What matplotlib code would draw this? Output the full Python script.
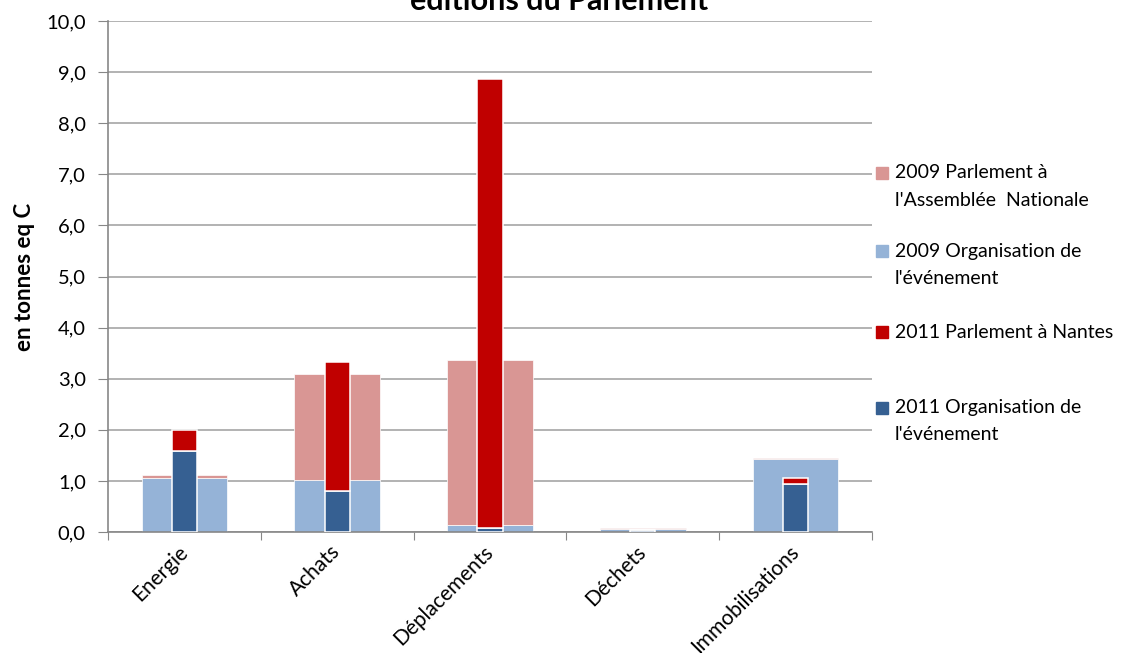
import matplotlib
matplotlib.use("Agg")
import matplotlib.pyplot as plt
import numpy as np

plt.rcParams['font.family'] = ['Lato', 'DejaVu Sans']

categories = ["Energie", "Achats", "Déplacements", "Déchets", "Immobilisations"]
org_2009 = [1.05, 1.02, 0.13, 0.05, 1.43]
parl_2009 = [0.07, 2.08, 3.24, 0.02, 0.02]
org_2011 = [1.58, 0.80, 0.07, 0.045, 0.94]
parl_2011 = [0.42, 2.53, 8.79, 0.0, 0.12]

legend_labels = ["2009 Parlement à\nl'Assemblée  Nationale",
                 "2009 Organisation de\nl'événement",
                 "2011 Parlement à Nantes",
                 "2011 Organisation de\nl'événement"]

c_parl09 = "#D99694"
c_org09 = "#95B3D7"
c_parl11 = "#C00000"
c_org11 = "#366092"

fig = plt.figure(figsize=(11.26, 6.53), dpi=100)
ax = fig.add_axes([108 / 1126, 1 - 532 / 653, (872 - 108) / 1126, (532 - 21) / 653])

x = np.arange(len(categories))
wide = 0.56
narrow = 0.165

ax.bar(x, org_2009, wide, color=c_org09, edgecolor="white", linewidth=0.5, zorder=2)
ax.bar(x, parl_2009, wide, bottom=org_2009, color=c_parl09, edgecolor="white", linewidth=0.5, zorder=2)
ax.bar(x, org_2011, narrow, color=c_org11, edgecolor="white", linewidth=1.1, zorder=3)
ax.bar(x, parl_2011, narrow, bottom=org_2011, color=c_parl11, edgecolor="white", linewidth=1.1, zorder=3)

ax.set_xlim(-0.5, len(categories) - 0.5)
ax.set_ylim(0, 10)
ax.set_yticks(np.arange(0, 11, 1))
ax.set_yticklabels([f"{v:.1f}".replace(".", ",") for v in range(0, 11)], fontsize=14.5)
ax.yaxis.grid(True, color="#A6A6A6", linewidth=1.2, zorder=0)
ax.set_axisbelow(True)

ax.set_xticks(np.arange(-0.5, len(categories), 1))
ax.set_xticklabels([])
ax.set_xticks(x, minor=True)
ax.set_xticklabels(categories, minor=True, rotation=45, ha="right", va="center",
                   rotation_mode="anchor", fontsize=15)
ax.tick_params(axis="x", which="minor", length=0, pad=12)
ax.tick_params(axis="x", which="major", length=6, color="#878787", direction="out")
ax.tick_params(axis="y", length=7, color="#878787", pad=9)

for s in ["top", "right"]:
    ax.spines[s].set_visible(False)
for s in ["left", "bottom"]:
    ax.spines[s].set_color("#878787")
    ax.spines[s].set_linewidth(1.2)

ax.set_ylabel("en tonnes eq C", fontsize=16, fontweight="bold", labelpad=8)

fig.text(559 / 1126, 1 - 10 / 653, "éditions du Parlement", ha="center", va="baseline",
         fontsize=22, fontweight="bold")

# manual legend, like Excel's
leg_colors = [c_parl09, c_org09, c_parl11, c_org11]
leg_y = [173, 251, 332, 408]
pitch = 27
for lab, col, yy in zip(legend_labels, leg_colors, leg_y):
    fig.patches.append(plt.Rectangle((876 / 1126, 1 - (yy + 6) / 653), 12 / 1126, 12 / 653,
                                     transform=fig.transFigure, color=col, figure=fig))
    for k, line in enumerate(lab.split("\n")):
        fig.text(895 / 1126, 1 - (yy + k * pitch) / 653, line, ha="left", va="center",
                 fontsize=14)

fig.savefig("out.png", dpi=100)
